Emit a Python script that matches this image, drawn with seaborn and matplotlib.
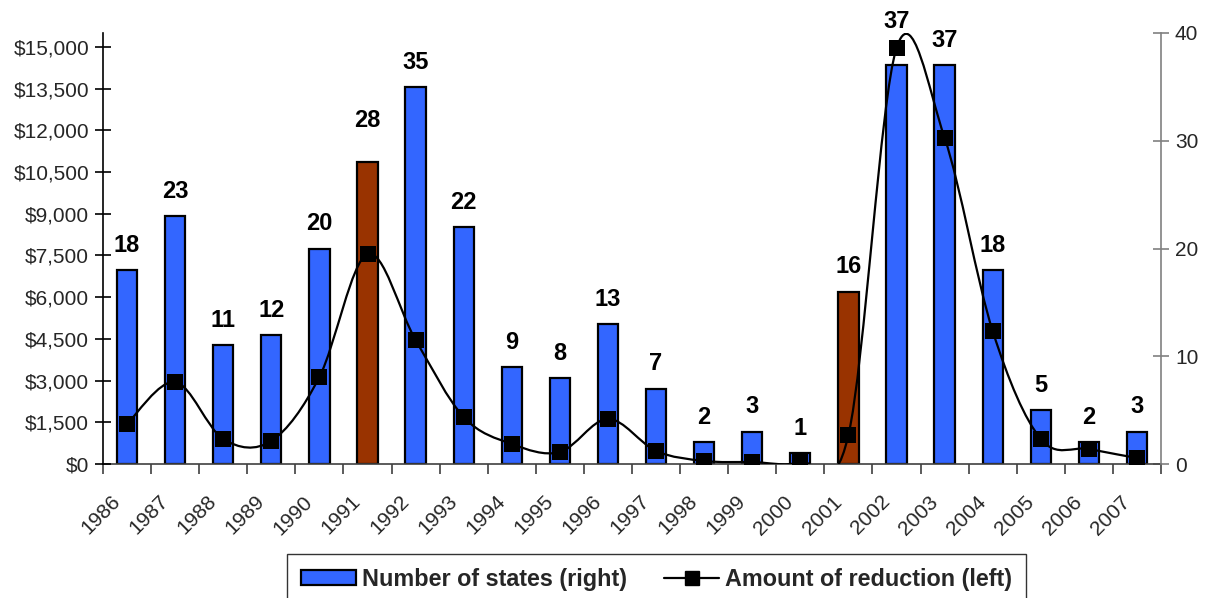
import matplotlib
matplotlib.use('Agg')
import matplotlib.pyplot as plt
import matplotlib.transforms as mtransforms
import seaborn as sns
import pandas as pd
from matplotlib.path import Path
from matplotlib.patches import PathPatch, Patch
from matplotlib.lines import Line2D
from matplotlib.ticker import FuncFormatter, MultipleLocator

years = [str(y) for y in range(1986, 2008)]
num_states = [18, 23, 11, 12, 20, 28, 35, 22, 9, 8, 13, 7, 2, 3, 1, 16, 37, 37, 18, 5, 2, 3]
reduction = [1440, 2950, 900, 830, 3130, 7550, 4460, 1690, 720, 430, 1620, 470,
             110, 70, 60, 1040, 14960, 11730, 4780, 900, 540, 215]
highlight_years = ['1991', '2001']

BLUE = '#3366FF'
BROWN = '#993300'

df = pd.DataFrame({'year': years, 'states': num_states, 'reduction': reduction})
colors = {y: (BROWN if y in highlight_years else BLUE) for y in years}

sns.set_theme(style='white')
plt.rcParams['font.family'] = ['Liberation Sans', 'DejaVu Sans']

fig = plt.figure(figsize=(12.12, 5.98), dpi=100)
ax = fig.add_axes([103 / 1212, 1 - 464 / 598, (1161 - 103) / 1212, (464 - 33) / 598])

# bars: number of states (right axis)
sns.barplot(data=df, x='year', y='states', hue='year', palette=colors, legend=False,
            width=0.42, edgecolor='black', linewidth=1.6, saturation=1, ax=ax)
ax.set_ylim(0, 40)
ax.set_xlim(-0.5, len(years) - 0.5)
ax.set_xlabel('')
ax.set_ylabel('')

# labels above bars (a couple pushed higher to clear the line)
raised = {'1991': 21.5, '2002': 23.5}
for i, (y, v) in enumerate(zip(years, num_states)):
    ax.annotate(str(v), (i, v), xytext=(0, raised.get(y, 9.5)), textcoords='offset points',
                ha='center', va='bottom', fontsize=17, fontweight='bold', color='black')

# line: amount of reduction (left axis), smoothed
axl = ax.twinx()
axl.set_ylim(0, 15500)
xs = list(range(len(years)))
verts = [(xs[0], reduction[0])]
codes = [Path.MOVETO]
n = len(xs)
for i in range(n - 1):
    a = max(i - 1, 0)
    b = min(i + 2, n - 1)
    c1 = (xs[i] + (xs[i + 1] - xs[a]) / 6, reduction[i] + (reduction[i + 1] - reduction[a]) / 6)
    c2 = (xs[i + 1] - (xs[b] - xs[i]) / 6, reduction[i + 1] - (reduction[b] - reduction[i]) / 6)
    verts += [c1, c2, (xs[i + 1], reduction[i + 1])]
    codes += [Path.CURVE4] * 3
axl.add_patch(PathPatch(Path(verts, codes), facecolor='none', edgecolor='black', lw=1.6, zorder=3))
sns.scatterplot(x=xs, y=reduction, marker='s', s=120, color='black', edgecolor='black',
                linewidth=0, zorder=4, ax=axl)
axl.set_xlim(-0.5, len(years) - 0.5)

# swap sides: bars' axis on the right, line's axis on the left
ax.yaxis.tick_right()
ax.yaxis.set_label_position('right')
axl.yaxis.tick_left()
axl.yaxis.set_label_position('left')
ax.yaxis.set_major_locator(MultipleLocator(10))
axl.set_yticks(range(0, 15001, 1500))
axl.yaxis.set_major_formatter(FuncFormatter(lambda v, p: f'${v:,.0f}'))

# spines / ticks
for a in (ax, axl):
    a.spines['top'].set_visible(False)
    a.grid(False)
ax.spines['left'].set_visible(False)
ax.spines['right'].set_visible(False)
axl.spines['bottom'].set_visible(False)
axl.spines['left'].set_color('black')
axl.spines['left'].set_linewidth(1.2)
axl.spines['right'].set_color('#808080')
axl.spines['right'].set_linewidth(1.2)
ax.spines['bottom'].set_color('#404040')
ax.spines['bottom'].set_linewidth(1.2)

axl.tick_params(axis='y', which='major', direction='inout', length=12, width=1.2,
                color='black', labelsize=15, pad=4, left=True, right=False,
                labelleft=True, labelright=False)
ax.tick_params(axis='y', which='major', direction='inout', length=12, width=1.2,
               color='#808080', labelsize=15, pad=4, right=True, left=False,
               labelright=True, labelleft=False)
ax.set_xticks(xs)
ax.set_xticks([x - 0.5 for x in range(len(years) + 1)], minor=True)
ax.tick_params(axis='x', which='major', length=0, labelsize=15, pad=25)
ax.tick_params(axis='x', which='minor', direction='out', length=7, width=1.2,
               color='#404040', bottom=True)
shift = mtransforms.ScaledTranslation(-7 / 72, 0, fig.dpi_scale_trans)
for lbl in ax.get_xticklabels():
    lbl.set_rotation(45)
    lbl.set_ha('right')
    lbl.set_rotation_mode('anchor')
    lbl.set_va('center')
    lbl.set_transform(lbl.get_transform() + shift)

axl.tick_params(axis='x', bottom=False, labelbottom=False)

handles = [Patch(facecolor=BLUE, edgecolor='black', linewidth=1.6),
           Line2D([0], [0], color='black', lw=1.6, marker='s', markersize=10)]
leg = fig.legend(handles, ['Number of states (right)', 'Amount of reduction (left)'],
                 loc='upper center', bbox_to_anchor=(0.5417, 1 - 554 / 598), ncol=2, frameon=True,
                 fancybox=False, edgecolor='black', prop={'weight': 'bold', 'size': 16.8},
                 handlelength=2.35, handleheight=0.6, columnspacing=1.6, borderpad=0.6,
                 handletextpad=0.26, borderaxespad=0)
leg.get_frame().set_linewidth(1.0)

fig.savefig('out.png', dpi=100)
